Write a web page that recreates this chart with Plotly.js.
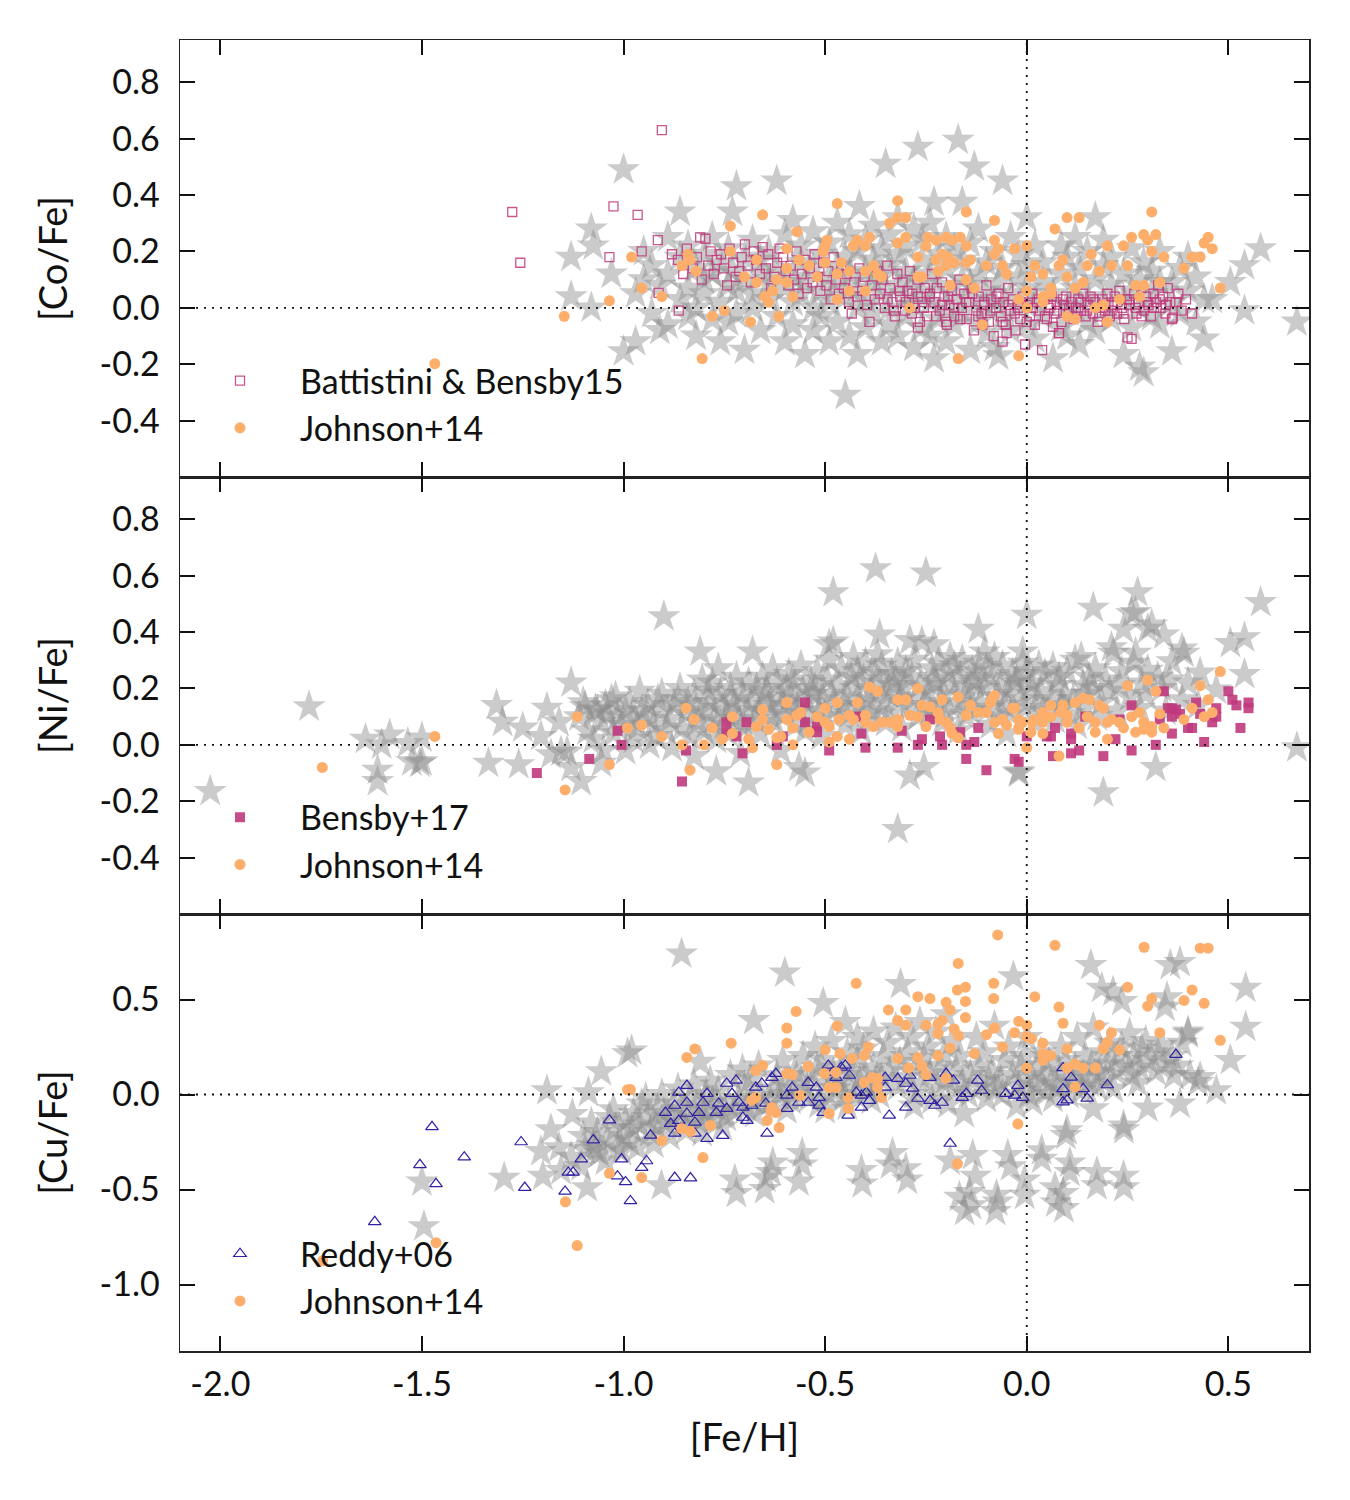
<!DOCTYPE html>
<html>
<head>
<meta charset="utf-8">
<script src="https://cdn.plot.ly/plotly-3.0.1.min.js"></script>
<style>html,body{margin:0;padding:0;background:#fff;}#chart{width:1350px;height:1500px;}</style>
</head>
<body>
<div id="chart"></div>
<script>
// ---------------- DATA ----------------
// x = [Fe/H], y = [X/Fe]
const xTickVals = [-2.0, -1.5, -1.0, -0.5, 0.0, 0.5];
const xTickText = ['-2.0', '-1.5', '-1.0', '-0.5', '0.0', '0.5'];
const yTickValsCoNi = [-0.4, -0.2, 0.0, 0.2, 0.4, 0.6, 0.8];
const yTickTextCoNi = ['-0.4', '-0.2', '0.0', '0.2', '0.4', '0.6', '0.8'];
const yTickValsCu = [-1.0, -0.5, 0.0, 0.5];
const yTickTextCu = ['-1.0', '-0.5', '0.0', '0.5'];

const legendNames = {
  battistini: 'Battistini & Bensby15',
  bensby: 'Bensby+17',
  reddy: 'Reddy+06',
  johnson: 'Johnson+14'
};

// Panel 1: [Co/Fe] grey stars
const coStars = [[-1.13,0.18],[-1.13,0.04],[-1.08,0.28],[-1.08,0.0],[-1.075,0.22],[-1.03,0.12],[-1.0,0.49],[-1.0,-0.155],[-0.97,0.05],[-0.97,-0.12],[-0.95,0.20],[-0.95,0.10],[-0.93,-0.02],[-0.93,0.15],[-0.91,0.08],[-0.91,-0.08],[-0.89,-0.06],[-0.89,0.25],[-0.89,0.12],[-0.86,0.34],[-0.86,0.03],[-0.86,0.18],[-0.84,0.07],[-0.84,-0.03],[-0.84,0.22],[-0.82,0.14],[-0.82,0.0],[-0.82,-0.10],[-0.80,0.05],[-0.80,0.19],[-0.80,0.10],[-0.78,-0.04],[-0.78,0.12],[-0.78,0.25],[-0.76,0.02],[-0.76,0.16],[-0.76,-0.12],[-0.74,0.08],[-0.74,0.21],[-0.74,-0.05],[-0.73,0.34],[-0.73,0.13],[-0.72,0.43],[-0.72,-0.02],[-0.72,0.06],[-0.70,0.10],[-0.70,0.18],[-0.70,-0.15],[-0.68,0.0],[-0.68,0.24],[-0.68,0.05],[-0.66,0.12],[-0.66,-0.08],[-0.66,0.17],[-0.64,0.03],[-0.64,0.20],[-0.64,0.09],[-0.62,0.45],[-0.62,-0.03],[-0.62,0.14],[-0.60,0.07],[-0.60,0.26],[-0.60,-0.12],[-0.58,0.31],[-0.58,0.02],[-0.58,0.11],[-0.58,-0.06],[-0.56,0.16],[-0.56,0.05],[-0.56,0.22],[-0.55,-0.165],[-0.55,0.09],[-0.53,0.0],[-0.53,0.14],[-0.53,0.27],[-0.53,-0.08],[-0.51,0.06],[-0.51,0.19],[-0.51,-0.03],[-0.49,0.11],[-0.49,0.23],[-0.49,-0.12],[-0.49,0.02],[-0.47,0.08],[-0.47,0.30],[-0.47,-0.05],[-0.47,0.15],[-0.45,-0.31],[-0.45,0.04],[-0.45,0.18],[-0.44,0.12],[-0.44,-0.10],[-0.44,0.26],[-0.42,-0.165],[-0.42,0.07],[-0.42,0.20],[-0.42,0.0],[-0.415,0.36],[-0.40,0.13],[-0.40,0.03],[-0.40,-0.07],[-0.40,0.24],[-0.38,0.09],[-0.38,0.17],[-0.38,-0.02],[-0.38,0.29],[-0.36,0.05],[-0.36,0.21],[-0.36,-0.12],[-0.36,0.11],[-0.35,0.51],[-0.34,0.0],[-0.34,0.15],[-0.34,0.26],[-0.34,-0.06],[-0.32,0.08],[-0.32,0.19],[-0.32,0.32],[-0.32,-0.10],[-0.30,0.04],[-0.30,0.13],[-0.30,-0.03],[-0.30,0.22],[-0.28,0.10],[-0.28,0.28],[-0.28,-0.14],[-0.28,0.01],[-0.27,0.57],[-0.26,0.06],[-0.26,0.17],[-0.26,-0.07],[-0.26,0.24],[-0.24,0.12],[-0.24,0.02],[-0.24,0.30],[-0.24,-0.10],[-0.23,0.375],[-0.23,-0.18],[-0.22,0.08],[-0.22,0.19],[-0.22,-0.04],[-0.20,0.14],[-0.20,0.0],[-0.20,0.25],[-0.20,-0.12],[-0.18,0.05],[-0.18,0.21],[-0.18,-0.06],[-0.17,0.595],[-0.16,0.375],[-0.16,0.10],[-0.16,-0.02],[-0.16,0.17],[-0.14,0.03],[-0.14,0.23],[-0.14,-0.15],[-0.14,0.08],[-0.13,0.50],[-0.12,0.12],[-0.12,-0.05],[-0.12,0.28],[-0.10,0.06],[-0.10,0.16],[-0.10,-0.09],[-0.10,0.0],[-0.08,0.20],[-0.08,0.02],[-0.08,-0.14],[-0.07,-0.17],[-0.07,0.09],[-0.06,0.45],[-0.06,0.14],[-0.06,-0.03],[-0.04,0.05],[-0.04,0.25],[-0.04,-0.08],[-0.02,0.11],[-0.02,0.0],[-0.02,0.19],[0.0,0.32],[0.0,0.07],[0.0,-0.06],[0.0,0.15],[0.02,0.02],[0.02,0.22],[0.02,-0.11],[0.04,0.09],[0.04,0.16],[0.04,-0.03],[0.065,-0.18],[0.065,0.05],[0.085,0.22],[0.085,0.12],[0.085,-0.07],[0.10,0.01],[0.10,0.18],[0.10,-0.10],[0.12,0.07],[0.12,0.25],[0.12,0.0],[0.13,-0.13],[0.13,0.14],[0.15,0.04],[0.15,0.20],[0.15,-0.05],[0.17,0.32],[0.17,0.10],[0.17,-0.08],[0.19,0.02],[0.19,0.15],[0.19,0.24],[0.21,-0.04],[0.21,0.08],[0.21,0.18],[0.24,-0.165],[0.24,0.12],[0.24,0.03],[0.26,0.06],[0.26,0.21],[0.26,-0.07],[0.28,-0.21],[0.28,0.10],[0.28,0.0],[0.29,-0.23],[0.29,0.16],[0.31,0.05],[0.31,-0.03],[0.31,0.13],[0.33,0.09],[0.33,0.20],[0.33,-0.06],[0.36,-0.155],[0.36,0.09],[0.36,0.02],[0.38,0.14],[0.38,-0.02],[0.40,0.06],[0.40,0.18],[0.42,0.11],[0.42,-0.05],[0.44,-0.11],[0.44,0.03],[0.46,0.03],[0.505,0.09],[0.54,0.15],[0.54,-0.01],[0.58,0.21],[0.67,-0.05]];

// Panel 1: Battistini & Bensby15 (open squares)
const coBattistini = [[-1.276,0.34],[-1.256,0.16],[-1.025,0.36],[-0.965,0.33],[-1.035,0.18],[-0.955,0.20],[-0.915,0.24],[-0.905,0.63],[-0.913,0.053],[-0.863,-0.01],[-0.88,0.19],[-0.81,0.25],[-0.865,0.17],[-0.852,0.12],[-0.843,0.21],[-0.828,0.14],[-0.818,0.18],[-0.806,0.10],[-0.797,0.245],[-0.79,0.15],[-0.784,0.20],[-0.776,0.12],[-0.769,0.17],[-0.758,0.19],[-0.751,0.14],[-0.743,0.08],[-0.737,0.21],[-0.728,0.16],[-0.722,0.11],[-0.713,0.13],[-0.707,0.18],[-0.699,0.225],[-0.692,0.15],[-0.684,0.09],[-0.677,0.20],[-0.671,0.17],[-0.662,0.12],[-0.655,0.215],[-0.647,0.14],[-0.641,0.19],[-0.634,0.07],[-0.626,0.11],[-0.619,0.16],[-0.613,0.21],[-0.604,0.18],[-0.598,0.13],[-0.591,0.08],[-0.585,0.15],[-0.577,0.10],[-0.571,0.20],[-0.566,0.05],[-0.558,0.12],[-0.551,0.17],[-0.545,0.07],[-0.538,0.14],[-0.531,0.09],[-0.526,0.19],[-0.518,0.11],[-0.512,0.06],[-0.505,0.16],[-0.497,0.08],[-0.492,0.13],[-0.486,0.03],[-0.479,0.18],[-0.473,0.10],[-0.466,0.05],[-0.46,0.15],[-0.453,0.07],[-0.447,0.12],[-0.441,0.02],[-0.434,-0.02],[-0.428,0.09],[-0.421,0.04],[-0.415,0.14],[-0.408,0.06],[-0.402,0.11],[-0.396,0.01],[-0.39,-0.05],[-0.384,0.08],[-0.377,0.03],[-0.371,0.13],[-0.364,0.05],[-0.358,0.10],[-0.352,0.0],[-0.346,0.15],[-0.339,0.07],[-0.333,0.02],[-0.327,-0.03],[-0.321,0.12],[-0.314,0.04],[-0.308,0.09],[-0.302,-0.01],[-0.296,0.06],[-0.29,0.13],[-0.284,0.05],[-0.278,0.0],[-0.271,0.10],[-0.265,-0.05],[-0.259,0.02],[-0.253,0.07],[-0.247,-0.03],[-0.241,0.04],[-0.235,0.12],[-0.229,0.02],[-0.223,0.07],[-0.216,-0.01],[-0.21,0.09],[-0.204,0.04],[-0.198,-0.06],[-0.192,0.01],[-0.186,0.06],[-0.18,-0.03],[-0.174,0.03],[-0.167,0.10],[-0.161,0.0],[-0.155,0.05],[-0.149,-0.04],[-0.143,0.02],[-0.137,0.07],[-0.131,-0.08],[-0.125,-0.01],[-0.119,0.04],[-0.112,-0.02],[-0.106,0.01],[-0.1,0.08],[-0.094,-0.05],[-0.088,0.03],[-0.082,-0.10],[-0.076,0.0],[-0.07,0.05],[-0.064,-0.03],[-0.058,0.02],[-0.052,-0.06],[-0.046,0.07],[-0.04,-0.01],[-0.034,0.03],[-0.028,-0.08],[-0.022,0.0],[-0.016,-0.04],[-0.01,0.04],[-0.004,-0.13],[0.002,0.01],[0.008,-0.03],[0.014,0.05],[0.02,-0.06],[0.026,0.02],[0.032,-0.01],[0.038,-0.15],[0.044,0.03],[0.05,-0.04],[0.056,0.0],[0.062,0.04],[0.068,-0.02],[0.074,0.02],[0.08,-0.09],[0.086,-0.05],[0.092,0.01],[0.098,0.04],[0.104,-0.02],[0.11,0.02],[0.116,-0.04],[0.122,0.0],[0.128,0.03],[0.134,-0.01],[0.14,0.05],[0.146,-0.03],[0.152,0.01],[0.158,0.04],[0.164,-0.02],[0.17,0.02],[0.176,-0.05],[0.182,0.0],[0.188,0.03],[0.194,-0.01],[0.2,0.05],[0.206,-0.03],[0.212,0.01],[0.218,0.04],[0.224,-0.02],[0.23,0.06],[0.236,0.0],[0.242,-0.04],[0.248,0.03],[0.254,0.01],[0.26,-0.11],[0.266,0.05],[0.272,-0.02],[0.278,0.02],[0.284,0.07],[0.29,-0.01],[0.296,0.04],[0.302,0.01],[0.308,-0.03],[0.314,0.05],[0.32,0.02],[0.326,0.08],[0.332,0.0],[0.338,0.04],[0.344,-0.02],[0.35,0.07],[0.356,0.02],[0.362,-0.035],[0.37,0.02],[0.376,0.05],[0.384,-0.01],[0.395,0.03],[0.41,-0.02],[0.36,-0.04],[-0.345,0.03],[-0.33,-0.01],[-0.315,0.06],[-0.3,0.02],[-0.285,-0.02],[-0.27,0.04],[-0.255,0.0],[-0.24,0.05],[-0.225,-0.03],[-0.21,0.01],[-0.195,0.04],[-0.18,0.0],[-0.165,-0.04],[-0.15,0.02],[-0.135,0.05],[-0.12,-0.03],[-0.105,0.02],[-0.09,-0.01],[-0.075,0.04],[-0.06,-0.05],[-0.045,0.01],[-0.03,-0.02],[-0.015,0.02],[0.0,-0.05],[0.015,0.0],[0.03,0.03],[0.045,-0.03],[0.06,0.01],[0.075,-0.01],[0.09,0.03],[0.105,0.0],[0.12,-0.03],[0.135,0.02],[0.15,-0.01],[0.165,0.03],[0.18,-0.03],[0.195,0.01],[0.21,-0.01],[0.225,0.02],[0.24,-0.02],[0.255,0.03],[0.27,0.0],[0.285,-0.03],[0.3,0.02],[0.315,0.0],[0.33,0.03],[0.345,0.01],[0.25,-0.105],[0.065,-0.067],[0.08,-0.09],[-0.05,-0.09],[-0.11,-0.06],[-0.2,-0.05],[-0.27,-0.07],[-0.06,-0.12]];

// Panel 1: Johnson+14 (orange dots)
const coJohnson = [[-1.468,-0.198],[-1.147,-0.03],[-1.035,0.025],[-0.98,0.18],[-0.955,0.07],[-0.905,0.04],[-0.805,-0.18],[-0.78,-0.03],[-0.75,-0.01],[-0.685,-0.05],[-0.615,-0.03],[-0.735,0.29],[-0.655,0.33],[-0.47,0.37],[-0.32,0.38],[-0.34,0.30],[-0.32,0.32],[-0.30,0.32],[-0.15,0.34],[-0.08,0.31],[-0.29,0.0],[-0.17,-0.18],[-0.02,-0.17],[-0.11,-0.06],[-0.855,0.15],[-0.84,0.19],[-0.82,0.13],[-0.835,0.17],[-0.735,0.20],[-0.70,0.11],[-0.67,0.17],[-0.67,0.09],[-0.65,0.04],[-0.64,0.02],[-0.63,0.06],[-0.62,0.10],[-0.595,0.21],[-0.595,0.14],[-0.595,0.09],[-0.58,0.04],[-0.57,0.27],[-0.565,0.17],[-0.54,0.15],[-0.52,0.11],[-0.50,0.16],[-0.50,0.22],[-0.495,0.24],[-0.505,0.20],[-0.47,0.12],[-0.47,0.03],[-0.46,0.16],[-0.44,0.13],[-0.44,0.06],[-0.43,0.22],[-0.42,0.24],[-0.40,0.22],[-0.39,0.25],[-0.40,0.06],[-0.40,0.13],[-0.38,0.15],[-0.37,0.12],[-0.36,0.11],[-0.32,0.23],[-0.30,0.25],[-0.27,0.18],[-0.27,0.11],[-0.26,0.11],[-0.245,0.25],[-0.25,0.22],[-0.225,0.24],[-0.20,0.25],[-0.185,0.24],[-0.165,0.25],[-0.15,0.22],[-0.225,0.17],[-0.21,0.19],[-0.195,0.18],[-0.20,0.15],[-0.18,0.16],[-0.22,0.13],[-0.19,0.08],[-0.15,0.10],[-0.13,0.07],[-0.15,0.16],[-0.14,0.17],[-0.10,0.15],[-0.08,0.19],[-0.08,0.24],[-0.07,0.21],[-0.06,0.15],[-0.05,0.12],[-0.03,0.21],[-0.02,0.03],[0.01,0.11],[0.02,0.15],[0.04,0.12],[0.0,0.22],[0.0,0.06],[0.0,0.0],[0.10,0.32],[0.13,0.32],[0.07,0.28],[0.31,0.34],[0.26,0.25],[0.29,0.26],[0.30,0.24],[0.32,0.26],[0.31,0.20],[0.20,0.22],[0.24,0.22],[0.16,0.19],[0.34,0.18],[0.41,0.18],[0.43,0.18],[0.44,0.23],[0.45,0.25],[0.46,0.21],[0.48,0.07],[0.39,0.14],[0.33,0.09],[0.27,0.08],[0.29,0.08],[0.28,0.04],[0.23,0.03],[0.21,0.15],[0.25,0.15],[0.18,0.13],[0.15,0.15],[0.17,0.0],[0.19,0.01],[0.20,-0.05],[0.10,-0.03],[0.12,-0.04],[0.14,0.09],[0.12,0.07],[0.10,0.11],[0.08,0.15],[0.09,0.17],[0.06,0.07],[0.06,0.05],[0.04,0.04],[0.04,0.02]];

// Panel 2: [Ni/Fe] grey stars
const niStars = [[-2.025,-0.165],[-1.78,0.135],[-1.64,0.02],[-1.6,0.0],[-1.58,0.035],[-1.535,0.005],[-1.50,0.025],[-1.525,-0.06],[-1.50,-0.06],[-1.505,-0.065],[-1.61,-0.09],[-1.61,-0.13],[-1.315,0.14],[-1.30,0.08],[-1.25,0.06],[-1.205,0.03],[-1.335,-0.065],[-1.26,-0.07],[-1.19,0.13],[-1.16,0.08],[-1.13,0.22],[-1.13,-0.08],[-1.105,-0.13],[-1.155,-0.025],[-1.14,-0.025],[-1.18,-0.035],[-1.055,-0.065],[-1.095,0.135],[-1.07,0.125],[-1.04,0.11],[-1.03,0.16],[-1.11,0.10],[-1.09,0.05],[-1.10,0.15],[-1.075,0.02],[-1.065,0.12],[-1.055,0.08],[-1.045,0.14],[-1.05,-0.02],[-1.025,0.04],[-1.015,0.10],[-1.02,0.17],[-0.995,0.12],[-1.005,0.07],[-0.995,-0.02],[-0.985,0.15],[-0.975,0.02],[-0.98,0.09],[-0.965,0.06],[-0.955,0.12],[-0.96,0.19],[-0.945,0.10],[-0.935,0.0],[-0.94,0.14],[-0.925,0.07],[-0.915,0.16],[-0.92,0.03],[-0.905,0.12],[-0.90,0.455],[-0.895,0.05],[-0.905,0.18],[-0.885,0.09],[-0.875,0.14],[-0.88,-0.01],[-0.865,0.16],[-0.855,0.06],[-0.86,0.20],[-0.845,0.11],[-0.835,0.03],[-0.84,0.15],[-0.825,0.18],[-0.815,0.08],[-0.82,0.13],[-0.825,-0.04],[-0.81,0.33],[-0.805,0.23],[-0.795,0.12],[-0.80,0.05],[-0.79,0.19],[-0.785,0.15],[-0.775,0.09],[-0.78,0.22],[-0.77,0.02],[-0.77,-0.095],[-0.765,0.27],[-0.755,0.13],[-0.76,0.18],[-0.75,0.07],[-0.745,0.11],[-0.735,0.20],[-0.74,0.04],[-0.73,0.16],[-0.725,0.14],[-0.715,0.08],[-0.72,0.24],[-0.71,-0.03],[-0.705,0.18],[-0.695,0.12],[-0.70,0.06],[-0.69,0.22],[-0.69,-0.135],[-0.68,0.33],[-0.685,0.15],[-0.675,0.09],[-0.67,0.20],[-0.665,0.12],[-0.655,0.24],[-0.66,0.04],[-0.65,0.17],[-0.645,0.19],[-0.635,0.10],[-0.64,0.14],[-0.63,0.27],[-0.625,0.08],[-0.615,0.16],[-0.62,0.22],[-0.61,-0.02],[-0.605,0.14],[-0.595,0.20],[-0.60,0.11],[-0.59,0.25],[-0.585,0.17],[-0.575,0.07],[-0.58,0.23],[-0.57,0.13],[-0.565,-0.08],[-0.565,0.12],[-0.555,0.19],[-0.56,0.28],[-0.55,0.05],[-0.55,-0.10],[-0.545,0.15],[-0.535,0.22],[-0.54,0.09],[-0.53,0.18],[-0.525,0.20],[-0.515,0.12],[-0.52,0.26],[-0.51,0.03],[-0.505,0.16],[-0.495,0.23],[-0.50,0.10],[-0.49,0.30],[-0.49,0.355],[-0.48,0.365],[-0.48,0.54],[-0.485,0.18],[-0.475,0.13],[-0.465,0.21],[-0.455,0.14],[-0.46,0.27],[-0.45,0.07],[-0.445,0.17],[-0.435,0.24],[-0.44,0.11],[-0.43,0.31],[-0.425,0.20],[-0.415,0.14],[-0.42,0.26],[-0.41,0.05],[-0.405,0.23],[-0.395,0.16],[-0.40,0.29],[-0.39,0.10],[-0.375,0.625],[-0.385,0.19],[-0.375,0.25],[-0.38,0.12],[-0.37,0.32],[-0.365,0.39],[-0.365,0.22],[-0.355,0.15],[-0.36,0.28],[-0.35,0.08],[-0.345,0.18],[-0.335,0.25],[-0.34,0.11],[-0.33,0.21],[-0.32,-0.30],[-0.325,0.23],[-0.315,0.16],[-0.32,0.29],[-0.305,0.20],[-0.295,0.13],[-0.30,0.26],[-0.31,0.06],[-0.29,0.37],[-0.29,-0.11],[-0.285,0.24],[-0.275,0.17],[-0.28,0.30],[-0.27,0.10],[-0.26,0.365],[-0.255,-0.08],[-0.265,0.21],[-0.255,0.14],[-0.25,0.61],[-0.245,0.19],[-0.235,0.27],[-0.24,0.12],[-0.23,0.23],[-0.23,0.355],[-0.225,0.22],[-0.215,0.15],[-0.22,0.29],[-0.21,0.08],[-0.205,0.18],[-0.195,0.25],[-0.20,0.11],[-0.19,0.31],[-0.185,0.21],[-0.175,0.14],[-0.18,0.28],[-0.17,0.05],[-0.165,0.24],[-0.155,0.17],[-0.16,0.30],[-0.15,0.10],[-0.145,0.19],[-0.135,0.26],[-0.14,0.12],[-0.13,0.22],[-0.12,0.41],[-0.125,0.23],[-0.115,0.15],[-0.12,0.29],[-0.105,0.33],[-0.105,0.20],[-0.095,0.13],[-0.10,0.27],[-0.09,0.07],[-0.085,0.24],[-0.075,0.17],[-0.08,0.31],[-0.07,0.10],[-0.065,0.21],[-0.055,0.14],[-0.06,0.28],[-0.05,0.04],[-0.045,0.18],[-0.035,0.25],[-0.04,0.11],[-0.03,0.22],[-0.025,0.23],[-0.015,0.16],[-0.02,-0.095],[-0.02,-0.10],[-0.01,0.33],[-0.01,0.29],[0.0,0.46],[0.005,0.20],[-0.005,0.13],[0.0,0.26],[0.015,0.22],[0.025,0.15],[0.02,0.08],[0.03,0.28],[0.035,0.19],[0.045,0.25],[0.04,0.12],[0.065,0.275],[0.06,0.16],[0.07,0.09],[0.075,0.21],[0.085,0.14],[0.08,0.24],[0.095,0.18],[0.105,0.11],[0.10,0.26],[0.12,0.30],[0.115,0.16],[0.125,0.07],[0.135,0.31],[0.14,0.21],[0.145,0.13],[0.155,0.24],[0.15,0.18],[0.165,0.485],[0.165,0.20],[0.175,0.10],[0.17,0.27],[0.19,-0.17],[0.185,0.15],[0.195,0.23],[0.21,0.345],[0.215,0.325],[0.205,0.19],[0.225,0.12],[0.235,0.26],[0.23,0.21],[0.24,0.41],[0.255,0.17],[0.26,0.465],[0.265,0.29],[0.27,0.47],[0.275,0.54],[0.27,0.325],[0.285,0.22],[0.28,0.13],[0.30,0.41],[0.30,0.265],[0.295,0.18],[0.31,0.425],[0.32,-0.08],[0.325,0.24],[0.34,0.39],[0.335,0.20],[0.345,0.12],[0.36,0.295],[0.355,0.23],[0.385,0.34],[0.39,0.325],[0.385,0.16],[0.40,0.22],[0.43,0.255],[0.425,0.14],[0.47,0.195],[0.505,0.36],[0.54,0.38],[0.54,0.25],[0.58,0.505],[0.67,-0.01]];

// Panel 2: Bensby+17 (filled squares)
const niBensby = [[-1.215,-0.10],[-1.085,-0.05],[-1.015,0.05],[-1.005,0.0],[-0.855,-0.13],[-0.845,-0.02],[-0.745,0.08],[-0.745,0.045],[-0.72,0.03],[-0.705,-0.03],[-0.695,0.08],[-0.62,0.0],[-0.605,0.03],[-0.55,0.15],[-0.55,0.08],[-0.52,0.045],[-0.52,0.065],[-0.49,-0.02],[-0.42,0.10],[-0.41,0.04],[-0.40,-0.01],[-0.32,-0.01],[-0.31,0.05],[-0.27,0.0],[-0.26,0.02],[-0.24,0.09],[-0.21,0.0],[-0.215,0.03],[-0.165,0.045],[-0.15,0.0],[-0.15,-0.05],[-0.13,0.01],[-0.12,0.06],[-0.10,-0.09],[-0.03,-0.05],[-0.02,-0.06],[0.0,0.03],[0.05,0.03],[0.065,-0.04],[0.07,0.06],[0.06,0.03],[0.11,-0.03],[0.13,-0.02],[0.11,0.04],[0.11,0.02],[0.145,0.10],[0.19,-0.04],[0.22,0.02],[0.23,0.09],[0.26,0.14],[0.26,-0.02],[0.32,0.0],[0.34,0.19],[0.33,0.09],[0.35,0.13],[0.36,0.13],[0.36,0.10],[0.37,0.125],[0.38,0.11],[0.36,0.04],[0.40,0.06],[0.41,0.06],[0.42,0.15],[0.43,0.11],[0.44,0.01],[0.46,0.08],[0.47,0.13],[0.47,0.10],[0.50,0.19],[0.51,0.16],[0.52,0.14],[0.53,0.06],[0.55,0.15],[0.55,0.13]];

// Panel 2: Johnson+14 (orange dots)
const niJohnson = [[-1.747,-0.08],[-1.468,0.03],[-1.145,-0.16],[-1.115,0.10],[-1.035,-0.07],[-0.99,0.06],[-0.955,0.07],[-0.905,0.03],[-0.855,0.0],[-0.845,0.13],[-0.825,0.09],[-0.835,-0.09],[-0.80,0.0],[-0.78,0.06],[-0.755,0.02],[-0.73,0.10],[-0.73,0.04],[-0.69,0.02],[-0.68,-0.01],[-0.67,0.065],[-0.655,0.125],[-0.655,0.09],[-0.64,0.055],[-0.62,-0.07],[-0.62,0.025],[-0.61,0.03],[-0.595,0.15],[-0.595,0.09],[-0.58,0.06],[-0.58,0.0],[-0.57,0.105],[-0.56,0.115],[-0.54,0.045],[-0.52,0.10],[-0.50,0.13],[-0.50,0.08],[-0.49,0.065],[-0.49,0.01],[-0.47,0.15],[-0.47,0.03],[-0.465,0.09],[-0.44,0.105],[-0.43,0.09],[-0.44,0.02],[-0.42,0.15],[-0.40,0.105],[-0.39,0.205],[-0.37,0.19],[-0.40,0.08],[-0.38,0.065],[-0.36,0.08],[-0.34,0.08],[-0.32,0.09],[-0.32,0.065],[-0.32,0.16],[-0.30,0.16],[-0.29,0.105],[-0.27,0.10],[-0.27,0.20],[-0.26,0.14],[-0.24,0.135],[-0.25,0.065],[-0.22,0.115],[-0.215,0.09],[-0.20,0.08],[-0.19,0.06],[-0.185,0.04],[-0.17,0.025],[-0.21,0.16],[-0.17,0.17],[-0.15,0.105],[-0.14,0.14],[-0.12,0.115],[-0.10,0.115],[-0.09,0.15],[-0.08,0.175],[-0.085,0.165],[-0.07,0.04],[-0.08,0.08],[-0.05,0.07],[-0.06,0.09],[-0.03,0.13],[-0.02,0.06],[-0.01,0.08],[0.0,-0.01],[0.01,0.045],[0.02,0.09],[0.04,0.04],[0.04,0.105],[-0.035,0.13],[-0.02,0.09],[-0.02,0.055],[0.015,0.08],[0.04,0.115],[0.04,0.08],[0.06,0.14],[0.06,0.10],[0.085,0.115],[0.09,0.14],[0.10,0.105],[0.10,0.08],[0.01,0.045],[0.12,0.15],[0.14,0.165],[0.155,0.16],[0.18,0.14],[0.19,0.13],[0.13,0.06],[0.15,0.10],[0.17,0.08],[0.17,0.045],[0.20,0.08],[0.21,0.09],[0.23,0.08],[0.24,0.06],[0.20,0.02],[0.08,-0.04],[0.25,0.21],[0.30,0.23],[0.32,0.19],[0.26,0.10],[0.28,0.115],[0.27,0.045],[0.29,0.08],[0.29,0.055],[0.31,0.065],[0.31,0.045],[0.34,0.06],[0.33,0.11],[0.39,0.09],[0.41,0.13],[0.43,0.21],[0.45,0.16],[0.44,0.10],[0.46,0.115],[0.48,0.26]];

// Panel 3: [Cu/Fe] grey stars
const cuStars = [[-1.495,-0.695],[-1.50,-0.46],[-1.19,0.02],[-1.087,0.01],[-1.296,-0.44],[-1.127,-0.105],[-1.07,-0.29],[-1.20,-0.43],[-1.205,-0.30],[-1.18,-0.185],[-1.16,-0.28],[-1.155,-0.40],[-1.13,-0.33],[-1.10,-0.22],[-1.105,-0.38],[-1.095,-0.29],[-1.08,-0.15],[-1.075,-0.27],[-1.09,-0.49],[-1.055,0.12],[-1.06,-0.31],[-1.065,-0.20],[-1.04,-0.24],[-1.035,-0.12],[-1.045,-0.35],[-1.02,-0.18],[-1.015,-0.28],[-1.025,-0.08],[-0.99,0.215],[-1.0,-0.22],[-0.995,-0.14],[-1.005,-0.30],[-0.98,0.23],[-0.975,-0.10],[-0.985,-0.25],[-0.98,-0.18],[-0.96,-0.16],[-0.955,-0.05],[-0.965,-0.28],[-0.94,-0.12],[-0.935,-0.20],[-0.945,-0.02],[-0.92,-0.17],[-0.915,-0.08],[-0.925,-0.26],[-0.906,-0.48],[-0.90,-0.10],[-0.895,-0.15],[-0.905,0.0],[-0.88,-0.13],[-0.875,-0.05],[-0.885,-0.22],[-0.856,0.74],[-0.86,-0.08],[-0.855,-0.16],[-0.865,0.03],[-0.84,-0.11],[-0.835,-0.02],[-0.845,-0.19],[-0.82,-0.06],[-0.815,-0.14],[-0.825,0.05],[-0.81,0.17],[-0.80,-0.09],[-0.795,0.0],[-0.805,-0.20],[-0.80,-0.12],[-0.78,-0.04],[-0.775,-0.13],[-0.785,0.07],[-0.76,-0.08],[-0.755,-0.17],[-0.765,0.02],[-0.74,-0.05],[-0.735,0.10],[-0.745,-0.12],[-0.724,-0.45],[-0.72,-0.52],[-0.715,-0.02],[-0.725,-0.09],[-0.70,0.04],[-0.695,-0.07],[-0.705,0.13],[-0.677,0.39],[-0.68,-0.03],[-0.675,-0.10],[-0.685,0.08],[-0.66,0.0],[-0.655,-0.06],[-0.665,0.15],[-0.647,-0.44],[-0.65,-0.50],[-0.63,-0.36],[-0.634,-0.41],[-0.625,0.03],[-0.635,-0.04],[-0.62,0.10],[-0.615,-0.01],[-0.60,0.64],[-0.60,0.05],[-0.595,-0.08],[-0.605,0.18],[-0.58,0.0],[-0.575,0.12],[-0.585,-0.03],[-0.565,-0.46],[-0.557,-0.31],[-0.557,-0.37],[-0.56,0.07],[-0.555,0.20],[-0.54,-0.02],[-0.535,0.10],[-0.545,0.03],[-0.52,0.14],[-0.515,-0.05],[-0.525,0.25],[-0.505,0.48],[-0.50,0.06],[-0.495,0.0],[-0.505,0.18],[-0.50,-0.08],[-0.48,0.11],[-0.475,0.03],[-0.485,0.28],[-0.46,0.15],[-0.455,-0.02],[-0.465,0.08],[-0.45,0.38],[-0.445,0.22],[-0.44,0.04],[-0.435,0.12],[-0.445,-0.06],[-0.42,0.18],[-0.415,0.07],[-0.425,0.0],[-0.42,0.30],[-0.41,-0.40],[-0.408,-0.47],[-0.40,0.10],[-0.395,0.02],[-0.405,0.24],[-0.38,0.14],[-0.375,0.05],[-0.385,-0.03],[-0.38,0.33],[-0.36,0.08],[-0.355,0.20],[-0.365,0.0],[-0.338,-0.37],[-0.333,-0.31],[-0.34,0.12],[-0.345,0.27],[-0.32,0.04],[-0.315,0.17],[-0.325,0.35],[-0.313,0.58],[-0.30,-0.39],[-0.296,-0.45],[-0.30,0.09],[-0.295,0.22],[-0.28,0.0],[-0.275,0.14],[-0.285,0.30],[-0.28,-0.06],[-0.26,0.06],[-0.255,0.19],[-0.265,0.38],[-0.24,0.11],[-0.235,-0.03],[-0.245,0.25],[-0.22,0.03],[-0.215,0.15],[-0.225,0.33],[-0.20,0.08],[-0.195,-0.05],[-0.205,0.21],[-0.20,0.42],[-0.19,-0.35],[-0.18,0.02],[-0.175,0.13],[-0.185,0.28],[-0.167,-0.54],[-0.16,0.06],[-0.155,-0.10],[-0.165,0.20],[-0.154,-0.615],[-0.142,-0.515],[-0.137,-0.585],[-0.14,0.10],[-0.145,0.0],[-0.134,-0.32],[-0.127,-0.43],[-0.12,0.15],[-0.115,0.04],[-0.125,0.30],[-0.10,-0.02],[-0.095,0.08],[-0.105,0.22],[-0.077,-0.615],[-0.075,-0.53],[-0.072,-0.565],[-0.08,0.03],[-0.085,0.12],[-0.08,0.36],[-0.06,0.0],[-0.055,0.18],[-0.065,0.07],[-0.047,-0.32],[-0.04,-0.38],[-0.035,0.10],[-0.045,0.25],[-0.033,0.62],[-0.02,0.04],[-0.015,0.15],[-0.025,-0.06],[-0.005,-0.45],[-0.005,-0.53],[0.0,0.08],[0.005,0.0],[-0.005,0.20],[0.0,0.30],[0.02,0.05],[0.025,0.13],[0.015,-0.04],[0.037,-0.295],[0.037,-0.34],[0.04,0.10],[0.045,0.02],[0.035,0.22],[0.06,0.06],[0.055,0.17],[0.065,-0.02],[0.07,-0.49],[0.072,-0.57],[0.08,0.12],[0.075,0.03],[0.085,0.25],[0.09,-0.52],[0.092,-0.60],[0.097,-0.215],[0.10,-0.19],[0.10,0.08],[0.105,0.0],[0.095,0.18],[0.107,-0.36],[0.107,-0.41],[0.12,0.14],[0.115,0.05],[0.125,0.30],[0.14,0.10],[0.135,0.02],[0.145,0.20],[0.159,0.68],[0.165,-0.075],[0.16,0.15],[0.155,0.06],[0.165,0.35],[0.174,-0.41],[0.174,-0.48],[0.18,0.11],[0.185,0.22],[0.175,0.04],[0.186,0.56],[0.20,0.16],[0.195,0.08],[0.205,0.27],[0.214,0.54],[0.22,0.12],[0.225,0.20],[0.215,0.03],[0.236,0.49],[0.24,-0.165],[0.241,-0.185],[0.24,-0.43],[0.241,-0.49],[0.245,0.15],[0.235,0.25],[0.26,0.10],[0.265,0.20],[0.255,0.32],[0.28,0.14],[0.285,0.24],[0.275,0.06],[0.30,-0.07],[0.30,0.18],[0.295,0.28],[0.32,0.12],[0.325,0.22],[0.343,0.46],[0.348,0.51],[0.34,0.16],[0.335,0.26],[0.356,0.68],[0.36,0.20],[0.365,0.10],[0.38,0.695],[0.38,-0.05],[0.375,0.15],[0.385,0.27],[0.40,0.32],[0.40,0.33],[0.405,0.10],[0.425,0.063],[0.43,0.09],[0.47,0.02],[0.505,0.18],[0.543,0.56],[0.543,0.355]];

// Panel 3: Reddy+06 (open triangles)
const cuReddy = [[-1.475,-0.17],[-1.505,-0.37],[-1.465,-0.47],[-1.395,-0.33],[-1.617,-0.67],[-1.254,-0.25],[-1.245,-0.49],[-1.145,-0.51],[-1.137,-0.41],[-1.125,-0.41],[-1.105,-0.34],[-1.075,-0.24],[-1.035,-0.135],[-1.005,-0.34],[-1.015,-0.43],[-0.995,-0.46],[-0.983,-0.56],[-0.955,-0.385],[-0.943,-0.35],[-0.933,-0.215],[-0.873,-0.437],[-0.834,-0.44],[-0.896,-0.095],[-0.873,-0.058],[-0.863,0.011],[-0.843,0.047],[-0.883,-0.153],[-0.873,-0.205],[-0.863,-0.137],[-0.843,-0.10],[-0.843,-0.042],[-0.823,-0.205],[-0.823,-0.147],[-0.813,-0.095],[-0.803,-0.042],[-0.793,0.005],[-0.793,-0.232],[-0.77,-0.095],[-0.764,-0.047],[-0.754,-0.216],[-0.744,-0.074],[-0.744,0.058],[-0.731,0.005],[-0.721,0.074],[-0.714,-0.042],[-0.704,-0.121],[-0.694,-0.137],[-0.704,-0.068],[-0.682,-0.058],[-0.672,0.037],[-0.657,0.058],[-0.647,-0.047],[-0.644,-0.205],[-0.632,0.089],[-0.622,0.11],[-0.595,-0.005],[-0.595,-0.074],[-0.582,0.037],[-0.565,-0.042],[-0.542,-0.042],[-0.542,0.063],[-0.522,0.037],[-0.515,-0.016],[-0.515,-0.058],[-0.505,-0.095],[-0.492,0.153],[-0.482,0.116],[-0.473,0.089],[-0.46,0.142],[-0.45,0.153],[-0.44,0.10],[-0.443,-0.11],[-0.41,-0.068],[-0.423,0.011],[-0.41,-0.005],[-0.398,0.011],[-0.39,-0.032],[-0.351,0.089],[-0.351,0.037],[-0.341,-0.11],[-0.32,0.084],[-0.30,0.058],[-0.30,-0.068],[-0.29,0.10],[-0.283,0.032],[-0.27,-0.021],[-0.24,0.089],[-0.24,-0.032],[-0.228,-0.058],[-0.21,-0.042],[-0.19,-0.258],[-0.20,0.11],[-0.182,0.074],[-0.16,-0.016],[-0.15,0.005],[-0.122,0.074],[-0.112,0.021],[-0.052,0.005],[-0.03,-0.005],[-0.022,0.047],[-0.01,-0.016],[0.09,0.14],[0.11,0.09],[0.09,0.03],[0.09,-0.04],[0.10,-0.03],[0.14,0.03],[0.15,-0.02],[0.20,0.05],[0.37,0.21]];

// Panel 3: Johnson+14 (orange dots)
const cuJohnson = [[-1.746,-0.875],[-1.465,-0.78],[-1.115,-0.795],[-1.144,-0.565],[-1.035,-0.415],[-0.99,0.025],[-0.955,-0.437],[-0.072,0.84],[-0.17,0.69],[-0.423,0.585],[-0.152,0.565],[-0.172,0.55],[-0.152,0.49],[-0.082,0.585],[-0.082,0.505],[-0.27,0.515],[-0.24,0.505],[-0.20,0.485],[-0.19,0.445],[-0.572,0.437],[-0.343,0.445],[-0.30,0.445],[0.02,0.515],[-0.152,0.405],[-0.32,0.39],[-0.30,0.365],[-0.25,0.365],[-0.22,0.37],[-0.21,0.39],[-0.22,0.32],[-0.18,0.345],[-0.17,0.31],[-0.08,0.35],[-0.10,0.315],[-0.02,0.385],[0.0,0.365],[0.0,0.305],[0.012,0.295],[0.04,0.27],[-0.03,0.325],[-0.595,0.35],[-0.595,0.27],[-0.47,0.36],[-0.733,0.27],[-0.823,0.24],[-0.843,0.195],[-0.50,0.235],[-0.393,0.25],[-0.403,0.205],[-0.463,0.215],[-0.433,0.19],[-0.32,0.19],[-0.27,0.195],[-0.26,0.15],[-0.293,0.14],[-0.25,0.105],[-0.19,0.245],[-0.22,0.205],[-0.13,0.215],[-0.06,0.25],[0.0,0.14],[-0.20,0.085],[0.04,0.215],[0.04,0.18],[-0.022,-0.155],[-0.172,-0.365],[-0.672,0.126],[-0.655,0.153],[-0.595,0.11],[-0.582,0.105],[-0.542,0.147],[-0.502,0.11],[-0.473,0.116],[-0.49,0.037],[-0.473,0.037],[-0.403,0.063],[-0.383,0.089],[-0.37,0.084],[-0.37,0.037],[-0.36,-0.016],[-0.443,-0.016],[-0.443,-0.074],[-0.49,-0.10],[-0.562,-0.005],[-0.682,-0.03],[-0.672,-0.016],[-0.632,-0.068],[-0.622,-0.095],[-0.634,-0.084],[-0.644,-0.137],[-0.614,-0.174],[-0.784,-0.163],[-0.856,-0.179],[-0.834,-0.195],[-0.905,-0.242],[-0.803,-0.332],[-0.983,0.026],[0.07,0.785],[0.291,0.775],[0.43,0.77],[0.45,0.77],[0.25,0.565],[0.41,0.55],[0.39,0.495],[0.44,0.48],[0.31,0.505],[0.30,0.465],[0.08,0.46],[0.09,0.375],[0.18,0.365],[0.21,0.325],[0.20,0.275],[0.19,0.24],[0.23,0.235],[0.33,0.325],[0.48,0.285],[0.10,0.24],[0.06,0.205],[0.10,0.14],[0.12,0.16],[0.14,0.14],[0.17,0.14],[0.12,0.04]];

// ---------------- PLOT ----------------
const xs = a => a.map(p => p[0]);
const ys = a => a.map(p => p[1]);

const FONT = 'Lato, "Open Sans", sans-serif';
const GREY = '#8c8c8c';
const STAR_SIZE = 25;
const PINK = '#c0397d';
const ORANGE = '#fdae6b';
const NAVY = '#2f22a3';

const starTrace = (d, xa, ya) => ({
  type: 'scatter', mode: 'markers', x: xs(d), y: ys(d), xaxis: xa, yaxis: ya,
  showlegend: false, hoverinfo: 'skip',
  marker: {symbol: 'star', size: STAR_SIZE, color: GREY, opacity: 0.45, line: {width: 0}}
});

const traces = [
  starTrace(coStars, 'x', 'y'),
  {type: 'scatter', mode: 'markers', name: legendNames.battistini, x: xs(coBattistini), y: ys(coBattistini),
   xaxis: 'x', yaxis: 'y', legend: 'legend',
   marker: {symbol: 'square-open', size: 9, color: PINK, opacity: 0.85, line: {width: 1.3, color: PINK}}},
  {type: 'scatter', mode: 'markers', name: legendNames.johnson, x: xs(coJohnson), y: ys(coJohnson),
   xaxis: 'x', yaxis: 'y', legend: 'legend',
   marker: {symbol: 'circle', size: 11, color: ORANGE, line: {width: 0}}},

  starTrace(niStars, 'x2', 'y2'),
  {type: 'scatter', mode: 'markers', name: legendNames.bensby, x: xs(niBensby), y: ys(niBensby),
   xaxis: 'x2', yaxis: 'y2', legend: 'legend2',
   marker: {symbol: 'square', size: 10, color: PINK, opacity: 0.9, line: {width: 0}}},
  {type: 'scatter', mode: 'markers', name: legendNames.johnson, x: xs(niJohnson), y: ys(niJohnson),
   xaxis: 'x2', yaxis: 'y2', legend: 'legend2',
   marker: {symbol: 'circle', size: 11, color: ORANGE, line: {width: 0}}},

  starTrace(cuStars, 'x3', 'y3'),
  {type: 'scatter', mode: 'markers', name: legendNames.reddy, x: xs(cuReddy), y: ys(cuReddy),
   xaxis: 'x3', yaxis: 'y3', legend: 'legend3',
   marker: {symbol: 'triangle-up-open', size: 11, color: NAVY, line: {width: 1.2, color: NAVY}}},
  {type: 'scatter', mode: 'markers', name: legendNames.johnson, x: xs(cuJohnson), y: ys(cuJohnson),
   xaxis: 'x3', yaxis: 'y3', legend: 'legend3',
   marker: {symbol: 'circle', size: 11, color: ORANGE, line: {width: 0}}}
];

const tickFont = {family: FONT, size: 34, color: '#111'};
const titleFont = {family: FONT, size: 38, color: '#111'};

const xBase = (anchor, showLabels) => ({
  anchor: anchor, range: [-2.1, 0.7], tickmode: 'array', tickvals: xTickVals, ticktext: xTickText,
  ticks: 'inside', ticklen: 15, tickwidth: 2, tickcolor: '#111',
  showline: true, linecolor: '#222', linewidth: 1.5, mirror: 'ticks',
  showgrid: false, zeroline: false, showticklabels: showLabels,
  tickfont: tickFont, ticklabelstandoff: 3, automargin: false
});
const yBase = (domain, range, vals, text, title) => ({
  domain: domain, range: range, tickmode: 'array', tickvals: vals, ticktext: text,
  ticks: 'inside', ticklen: 15, tickwidth: 2, tickcolor: '#111',
  showline: true, linecolor: '#222', linewidth: 1.5, mirror: 'ticks',
  showgrid: false, zeroline: false, tickfont: tickFont, ticklabelstandoff: 12,
  title: {text: title, font: titleFont, standoff: 20}, automargin: false
});

const dotted = (xref, yref) => [
  {type: 'line', xref: xref, yref: yref + ' domain', x0: 0, x1: 0, y0: 0, y1: 1,
   line: {color: '#111', width: 1.8, dash: '2px,6px'}, layer: 'above'},
  {type: 'line', xref: xref + ' domain', yref: yref, x0: 0, x1: 1, y0: 0, y1: 0,
   line: {color: '#111', width: 1.8, dash: '2px,6px'}, layer: 'above'}
];

const legendBase = (y) => ({
  x: 0.0, y: y, xanchor: 'left', yanchor: 'top', bgcolor: 'rgba(0,0,0,0)',
  font: {family: FONT, size: 34, color: '#111'}, itemwidth: 110, tracegroupgap: 0
});

const layout = {
  width: 1350, height: 1500,
  margin: {l: 180, r: 41, t: 40, b: 149},
  paper_bgcolor: '#fff', plot_bgcolor: '#fff',
  font: {family: FONT},
  xaxis: xBase('y', false),
  xaxis2: xBase('y2', false),
  xaxis3: Object.assign(xBase('y3', true), {title: {text: '[Fe/H]', font: titleFont, standoff: 22}}),
  yaxis: yBase([2/3, 1], [-0.6, 0.95], yTickValsCoNi, yTickTextCoNi, '[Co/Fe]'),
  yaxis2: yBase([1/3, 2/3], [-0.6, 0.95], yTickValsCoNi, yTickTextCoNi, '[Ni/Fe]'),
  yaxis3: yBase([0, 1/3], [-1.35, 0.95], yTickValsCu, yTickTextCu, '[Cu/Fe]'),
  shapes: [].concat(dotted('x', 'y'), dotted('x2', 'y2'), dotted('x3', 'y3')),
  legend: legendBase(0.762),
  legend2: legendBase(0.429),
  legend3: legendBase(0.096)
};

Plotly.newPlot('chart', traces, layout, {staticPlot: true, displayModeBar: false});
</script>
</body>
</html>
